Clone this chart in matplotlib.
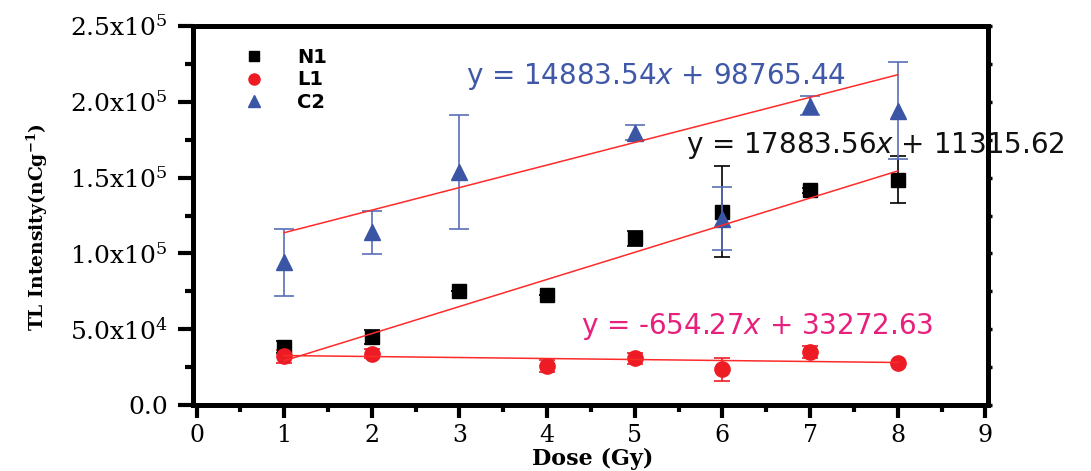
import matplotlib
matplotlib.use('Agg')
import matplotlib.pyplot as plt
from matplotlib.lines import Line2D
from matplotlib.ticker import MultipleLocator, FixedLocator, FixedFormatter

# ---- data ----
n1_x = [1, 2, 3, 4, 5, 6, 7, 8]
n1_y = [38400, 45000, 75500, 72800, 110000, 127500, 141500, 148600]
n1_err = [4000, 4500, 0, 0, 5000, 30000, 1500, 15500]

l1_x = [1, 2, 4, 5, 6, 7, 8]
l1_y = [32000, 33800, 26000, 30900, 23600, 34900, 27600]
l1_err = [4400, 3000, 4000, 3600, 7700, 3900, 0]

c2_x = [1, 2, 3, 5, 6, 7, 8]
c2_y = [94000, 113900, 153600, 179500, 123000, 197500, 194000]
c2_err = [22000, 14000, 37700, 5000, 21000, 6000, 32000]

fit_x = [1, 8]
fit_slope = {'N1': 17883.56, 'L1': -654.27, 'C2': 14883.54}
fit_icpt = {'N1': 11315.62, 'L1': 33272.63, 'C2': 98765.44}

x_ticks = [0, 1, 2, 3, 4, 5, 6, 7, 8, 9]
y_ticks = [0, 50000, 100000, 150000, 200000, 250000]
y_tick_labels = ['0.0', r'5.0x10$^{4}$', r'1.0x10$^{5}$', r'1.5x10$^{5}$',
                 r'2.0x10$^{5}$', r'2.5x10$^{5}$']

# ---- style ----
plt.rcParams['font.family'] = 'DejaVu Serif'
plt.rcParams['mathtext.fontset'] = 'dejavuserif'

BLACK = '#000000'
RED = '#ed1c24'
BLUE = '#3a55a4'
BLUE_ERR = '#5a6fb8'
FIT = '#ff2a2a'

fig = plt.figure(figsize=(10.91, 4.71), dpi=100)
ax = fig.add_axes([193/1091, 1-405/471, 795/1091, 379/471])

ax.errorbar(n1_x, n1_y, yerr=n1_err, fmt='s', color=BLACK, ms=10,
            capsize=6, elinewidth=1.2, capthick=1.2, zorder=3)
ax.errorbar(l1_x, l1_y, yerr=l1_err, fmt='o', color=RED, ms=11,
            capsize=6, elinewidth=1.2, capthick=1.2, zorder=3)
ax.errorbar(c2_x, c2_y, yerr=c2_err, fmt='^', color=BLUE, ecolor=BLUE_ERR,
            ms=12, capsize=7, elinewidth=1.2, capthick=1.2, zorder=4)

for key in ['N1', 'L1', 'C2']:
    ys = [fit_slope[key]*xx + fit_icpt[key] for xx in fit_x]
    ax.plot(fit_x, ys, color=FIT, lw=1.1, zorder=5)

ax.set_xlim(-0.04, 9.03)
ax.set_ylim(0, 250000)

ax.xaxis.set_major_locator(FixedLocator(x_ticks))
ax.xaxis.set_minor_locator(MultipleLocator(0.5))
ax.yaxis.set_major_locator(FixedLocator(y_ticks))
ax.yaxis.set_major_formatter(FixedFormatter(y_tick_labels))
ax.yaxis.set_minor_locator(MultipleLocator(25000))

for s in ax.spines.values():
    s.set_linewidth(3.6)
    s.set_color(BLACK)

ax.tick_params(axis='x', which='major', direction='out', length=9, width=3,
               labelsize=17, pad=5)
ax.tick_params(axis='x', which='minor', direction='out', length=5, width=3)
ax.tick_params(axis='y', which='major', direction='out', length=11, width=3,
               labelsize=18, pad=7)
ax.tick_params(axis='y', which='minor', direction='out', length=6, width=3)

ax2 = ax.twinx()
ax2.set_ylim(0, 250000)
ax2.yaxis.set_major_locator(MultipleLocator(25000))
ax2.tick_params(axis='y', which='major', direction='out', length=3, width=2.5,
                labelright=False)
for s in ax2.spines.values():
    s.set_visible(False)

ax.set_xlabel('Dose (Gy)', fontsize=16, fontweight='bold')
ax.xaxis.set_label_coords(0.503, -0.113)
ax.set_ylabel(r'TL Intensity(nCg$^{\mathbf{-1}}$)', fontsize=13.5, fontweight='bold')
ax.yaxis.set_label_coords(-0.18, 0.47)

eq_kw = dict(fontsize=20, family='DejaVu Sans', math_fontfamily='dejavusans',
             va='center', ha='left', zorder=1, clip_on=False)
ax.text(3.08, 216400, r'y = 14883.54$\mathit{x}$ + 98765.44', color='#3f58a7', **eq_kw)
ax.text(5.58, 171500, r'y = 17883.56$\mathit{x}$ + 11315.62', color='#111111', **eq_kw)
ax.text(4.39, 52000, r'y = -654.27$\mathit{x}$ + 33272.63', color='#e6207c', **eq_kw)

handles = [Line2D([], [], ls='none', marker='s', color=BLACK, ms=7),
           Line2D([], [], ls='none', marker='o', color=RED, ms=8),
           Line2D([], [], ls='none', marker='^', color=BLUE, ms=9)]
leg = ax.legend(handles, ['N1', 'L1', 'C2'], loc='upper left',
                bbox_to_anchor=(0.065, 0.942), frameon=False, handlelength=1.0,
                handletextpad=1.7, labelspacing=0.18, borderaxespad=0, borderpad=0,
                prop={'family': 'DejaVu Sans', 'weight': 'bold', 'size': 14})

fig.savefig('out.png', dpi=100)
